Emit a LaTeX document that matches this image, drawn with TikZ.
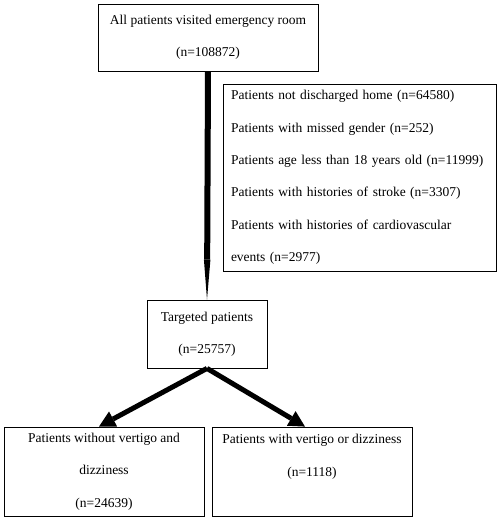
\documentclass[tikz,border=0pt]{standalone}
\usepackage{fontspec}
\setmainfont{Liberation Serif}
\usetikzlibrary{arrows.meta}
\usetikzlibrary{positioning}
\tikzset{box/.style = {draw, thick, rectangle, inner xsep=10pt, inner ysep=3pt,
                       font=\fontsize{13.5}{32.5}\selectfont},
         bigarrow/.style = {line width=5pt, -{Triangle[length=16pt,width=17pt,line width=0pt]}},
         longarrow/.style = {line width=6pt, -{Triangle[length=40pt,width=6.5pt,line width=0pt]}}}

\begin{document}
\begin{tikzpicture}[x=1pt, y=-1pt]
    \useasboundingbox (0, 0) rectangle (498, 520);

    \node [box, align=center, minimum width=220pt, minimum height=67pt] (all) at (208, 37.5)
      {All patients visited emergency room\\(n=108872)};
    \node [box, inner xsep=8pt, align=left, text width=257pt, minimum height=187pt] (excl) at (359.5, 177.5)
      {Patients not discharged home (n=64580)\\
       Patients with missed gender (n=252)\\
       Patients age less than 18 years old (n=11999)\\
       Patients with histories of stroke (n=3307)\\
       Patients with histories of cardiovascular\\
       events (n=2977)};
    \node [box, align=center, minimum width=120pt, minimum height=68pt] (target) at (207, 334)
      {Targeted patients\\(n=25757)};
    \node [box, inner xsep=4pt, align=center, minimum width=200pt, minimum height=89pt] (noverti) at (104, 471.5)
      {Patients without vertigo and\\dizziness\\(n=24639)};
    \node [box, inner xsep=4pt, align=center, minimum width=200pt, minimum height=89pt] (verti) at (312, 471.5)
      {Patients with vertigo or dizziness\\(n=1118)\\ \mbox{}};

    \draw [longarrow] (all.south) -- (target.north);
    \draw [bigarrow] (target.south) -- ([xshift=-5pt]noverti.north);
    \draw [bigarrow] (target.south) -- ([xshift=-7pt]verti.north);
  \end{tikzpicture}
\end{document}
